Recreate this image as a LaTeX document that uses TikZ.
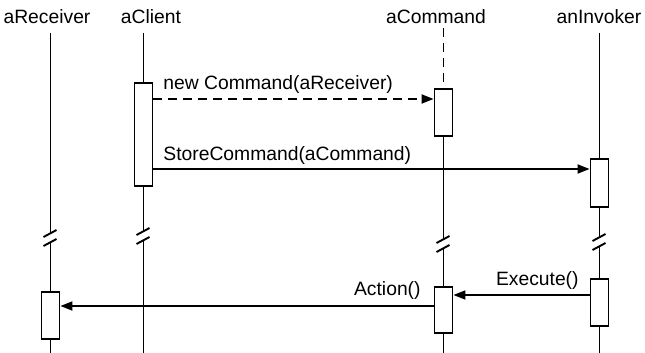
\documentclass[tikz,border=0pt]{standalone}
\usepackage{fontspec}
\setmainfont{Liberation Sans}
\usetikzlibrary{arrows.meta}

\tikzset{
  lbl/.style={font=\fontsize{19.3}{22}\selectfont, inner sep=0pt},
  life/.style={line width=1.9pt},
  act/.style={draw, line width=1.9pt, minimum width=18pt, inner sep=0pt},
  msg/.style={-{Triangle[length=12pt,width=9pt]}, line width=1.9pt},
  dsh/.style={dash pattern=on 9pt off 6pt},
}

\begin{document}
\begin{tikzpicture}[x=1pt, y=-1pt]
\useasboundingbox (0,0) rectangle (645,353);
% object names
\node[lbl, anchor=base] (rcvname) at (47,23.5) {aReceiver};
\node[lbl, anchor=base] (cliname) at (151,23.5) {aClient};
\node[lbl, anchor=base] (cmdname) at (436,23.5) {aCommand};
\node[lbl, anchor=base] (invname) at (599,23.5) {anInvoker};

% activation boxes
\node[act, minimum height=103pt] (cli) at (143.5,134.5) {};
\node[act, minimum height=47pt] (cmd1) at (443.5,112.5) {};
\node[act, minimum height=48pt] (inv1) at (599.5,183) {};
\node[act, minimum height=46pt] (cmd2) at (443.5,310) {};
\node[act, minimum height=47pt] (inv2) at (599.5,302.5) {};
\node[act, minimum height=47pt] (rcv) at (50.5,315.5) {};

% breaks
\coordinate (rb) at (50.5,238);
\coordinate (cb) at (143.5,236);
\coordinate (mb) at (443.5,244);
\coordinate (ib) at (599.5,242);
\foreach \b in {rb,cb,mb,ib}{
  \draw[life] ([shift={(-7,-1)}]\b) -- ([shift={(6,-8)}]\b);
  \draw[life] ([shift={(-7,8)}]\b) -- ([shift={(6,1)}]\b);
}

% lifelines
\draw[life] (50.5,33) -- ([shift={(0,-4.5)}]rb);
\draw[life] ([shift={(0,4.5)}]rb) -- (rcv.north);
\draw[life] (rcv.south) -- (50.5,353);
\draw[life] (143.5,33) -- (cli.north);
\draw[life] (cli.south) -- ([shift={(0,-4.5)}]cb);
\draw[life] ([shift={(0,4.5)}]cb) -- (143.5,353);
\draw[life, dsh] (443.5,28) -- (cmd1.north);
\draw[life] (cmd1.south) -- ([shift={(0,-4.5)}]mb);
\draw[life] ([shift={(0,4.5)}]mb) -- (cmd2.north);
\draw[life] (cmd2.south) -- (443.5,353);
\draw[life] (599.5,33) -- (inv1.north);
\draw[life] (inv1.south) -- ([shift={(0,-4.5)}]ib);
\draw[life] ([shift={(0,4.5)}]ib) -- (inv2.north);
\draw[life] (inv2.south) -- (599.5,353);

% messages
\coordinate (m1) at (0,99);
\coordinate (m2) at (0,169);
\coordinate (m3) at (0,295);
\coordinate (m4) at (0,306);
\draw[msg, dsh] (cli.east |- m1) node[lbl, anchor=base west, xshift=9pt, yshift=10pt] {new Command(aReceiver)} -- (cmd1.west |- m1);
\draw[msg] (cli.east |- m2) node[lbl, anchor=base west, xshift=9pt, yshift=9pt] {StoreCommand(aCommand)} -- (inv1.west |- m2);
\draw[msg] (inv2.west |- m3) node[lbl, anchor=base east, xshift=-10pt, yshift=10pt] {Execute()} -- (cmd2.east |- m3);
\draw[msg] (cmd2.west |- m4) node[lbl, anchor=base east, xshift=-12pt, yshift=11pt] {Action()} -- (rcv.east |- m4);
\end{tikzpicture}
\end{document}
